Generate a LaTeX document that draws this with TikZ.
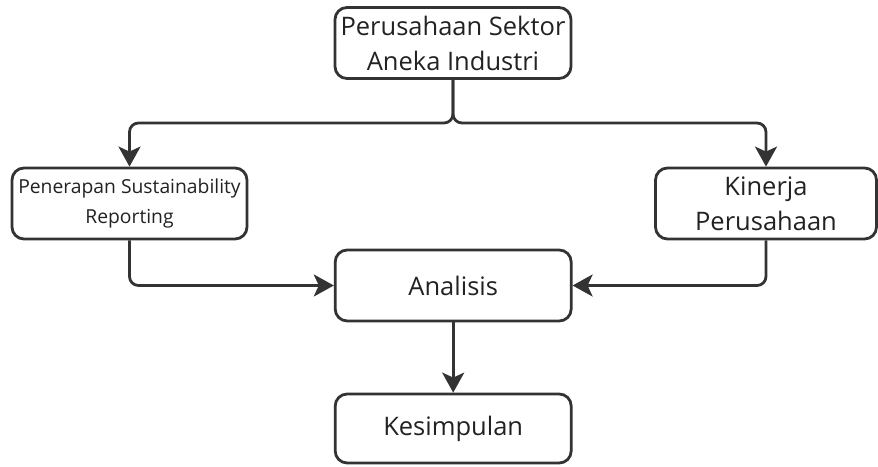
\documentclass[tikz,border=0pt]{standalone}
\usepackage{fontspec}
\setmainfont{Open Sans}
\usepackage{tikz}
\usetikzlibrary{arrows.meta, positioning, calc}
\definecolor{inkline}{HTML}{333333}
\definecolor{inktext}{HTML}{222222}
\tikzset{
  stepframe/.style = {draw=inkline, line width=2.8pt, fill=white, text=inktext},
}

\begin{document}
\begin{tikzpicture}[
    x=1pt, y=-1pt,
    >={Stealth[length=20pt, width=22pt, inset=5pt]},
    box/.style   ={stepframe, rounded corners=12pt, align=center,
                   inner sep=0pt, minimum height=71pt, minimum width=236pt,
                   font=\fontsize{25.5}{35}\selectfont},
    flow/.style  ={->, line width=2.8pt, draw=inkline, rounded corners=9pt}
  ]
  \useasboundingbox (0,0) rectangle (878,466);

  %% --- Source: company sector ----------------------------------------
  \node[box] (sector) at (453,43) {Perusahaan Sektor\\Aneka Industri};

  %% --- Two branches ---------------------------------------------------
  \node[box, minimum width=235pt, font=\fontsize{19.3}{30}\selectfont]
      (report) at (129.5,203.5) {Penerapan Sustainability\\Reporting};
  \node[box, minimum width=221pt] (perf) at (766,203.5) {Kinerja\\Perusahaan};

  %% --- Analysis and conclusion ----------------------------------------
  \node[box] (analysis) at (453.2,285.5) {Analisis};
  \node[box, minimum height=69pt] (concl) at (453.2,428.5) {Kesimpulan};

  %% --- Edges ------------------------------------------------------------
  \coordinate (split) at (453,123);
  \draw[flow] (sector.south) -- (split) -| (report.north);
  \draw[flow] (sector.south) -- (split) -| (perf.north);
  \draw[flow] (report.south) |- (analysis.west);
  \draw[flow] (perf.south) |- (analysis.east);
  \draw[flow] (analysis.south) -- (concl.north);
\end{tikzpicture}
\end{document}
